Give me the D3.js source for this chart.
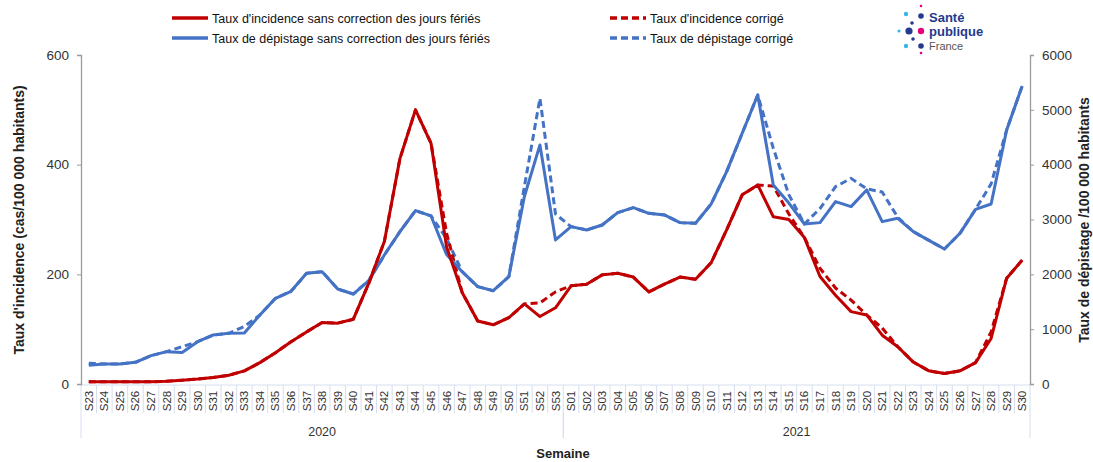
<!DOCTYPE html>
<html>
<head>
<meta charset="utf-8">
<script src="https://cdn.jsdelivr.net/npm/d3@7"></script>
<style>
  body { margin: 0; background: #fff; }
  svg { font-family: "Liberation Sans", Arial, sans-serif; }
</style>
</head>
<body>
<div id="chart"></div>
<script>
// weeks: S23..S53 of 2020, then S01..S30 of 2021
const weeks2020 = d3.range(23, 54).map(d => "S" + d);
const weeks2021 = d3.range(1, 31).map(d => "S" + String(d).padStart(2, "0"));
const years = [
    {label: "2020", count: weeks2020.length},
    {label: "2021", count: weeks2021.length}
];

// incidence rate (cases / 100 000), left axis
const incidence = [
    4, 4, 4, 4, 4, 5, 7, 9, 12, 16, 24, 39, 57, 77, 95, 112, 111, 118, 184, 260, 411, 500, 439, 250, 167, 115, 108, 121, 146, 123, 139,
    179, 182, 199, 202, 195, 168, 182, 195, 191, 221, 281, 345, 363, 305, 300, 267, 196, 162, 132, 126, 89, 68, 40, 24, 19, 24, 39, 83, 193, 226
];
const incidenceCorr = [
    4, 4, 4, 4, 4, 5, 7, 9, 12, 16, 24, 39, 57, 77, 95, 112, 111, 118, 184, 260, 411, 500, 439, 275, 167, 115, 108, 121, 146, 148, 168,
    179, 182, 199, 202, 195, 168, 182, 195, 191, 221, 281, 345, 363, 361, 310, 267, 211, 175, 153, 126, 102, 68, 40, 24, 19, 24, 39, 95, 193, 226
];

// screening rate (/ 100 000), right axis
const depistage = [
    340, 365, 365, 396, 517, 590, 575, 772, 894, 924, 930, 1259, 1563, 1690, 2019, 2049, 1733, 1641, 1885, 2353, 2778, 3162, 3065, 2360, 2049, 1775, 1702, 1957, 3420, 4360, 2627,
    2870, 2809, 2900, 3125, 3216, 3113, 3083, 2943, 2931, 3280, 3872, 4572, 5271, 3629, 3300, 2918, 2943, 3326, 3235, 3539, 2961, 3022, 2778, 2620, 2462, 2748, 3186, 3283, 4633, 5436
];
const depistageCorr = [
    380, 365, 365, 396, 517, 590, 680, 772, 894, 924, 1050, 1259, 1563, 1690, 2019, 2049, 1733, 1641, 1885, 2353, 2778, 3162, 3065, 2650, 2049, 1775, 1702, 1957, 3600, 5210, 3100,
    2870, 2809, 2900, 3125, 3216, 3113, 3083, 2943, 2931, 3280, 3872, 4572, 5271, 4300, 3450, 2918, 3200, 3600, 3750, 3560, 3500, 3040, 2778, 2620, 2462, 2748, 3186, 3650, 4633, 5436
];

const leftTicks = [0, 200, 400, 600];
const rightTicks = [0, 1000, 2000, 3000, 4000, 5000, 6000];

const width = 1093, height = 462;
const red = "#c00000", blue = "#4472c4";
const gridCol = "#d6dfee";

const cats = weeks2020.map(w => "2020-" + w).concat(weeks2021.map(w => "2021-" + w));
const labels = weeks2020.concat(weeks2021);

const svg = d3.select("#chart").append("svg")
    .attr("width", width)
    .attr("height", height);

const x = d3.scaleBand().domain(cats).range([81, 1030]).padding(0);
const yL = d3.scaleLinear().domain([0, 600]).range([384, 55]);
const yR = d3.scaleLinear().domain([0, 6000]).range([384, 55]);
const cx = i => x(cats[i]) + x.bandwidth() / 2;

// category axis boxes
const axisG = svg.append("g");
axisG.append("line")
    .attr("x1", 81).attr("x2", 1030).attr("y1", 385).attr("y2", 385)
    .attr("stroke", gridCol);
axisG.selectAll(".sep")
    .data(d3.range(cats.length + 1))
    .join("line")
    .attr("x1", i => 81 + i * x.bandwidth())
    .attr("x2", i => 81 + i * x.bandwidth())
    .attr("y1", 385).attr("y2", 413)
    .attr("stroke", gridCol);
axisG.selectAll(".wk")
    .data(labels)
    .join("text")
    .attr("transform", (d, i) => `translate(${cx(i) + 4},${401}) rotate(-90)`)
    .attr("text-anchor", "middle")
    .attr("font-size", 11.5)
    .attr("fill", "#333")
    .text(d => d);

let start = 0;
years.forEach(y => {
    const x0 = x(cats[start]);
    const x1 = x0 + y.count * x.bandwidth();
    [x0, x1].forEach(xx => axisG.append("line")
        .attr("x1", xx).attr("x2", xx).attr("y1", 413).attr("y2", 438)
        .attr("stroke", gridCol));
    axisG.append("text")
        .attr("x", (x0 + x1) / 2).attr("y", 436)
        .attr("text-anchor", "middle")
        .attr("font-size", 12.5)
        .attr("fill", "#333")
        .text(y.label);
    start += y.count;
});

svg.append("text")
    .attr("x", 563).attr("y", 458)
    .attr("text-anchor", "middle")
    .attr("font-size", 13).attr("font-weight", "bold")
    .attr("fill", "#222")
    .text("Semaine");

// y axes
const leftAxis = svg.append("g")
    .attr("transform", "translate(81,0)")
    .call(d3.axisLeft(yL).tickValues(leftTicks).tickSize(4).tickPadding(8).tickFormat(d3.format("d")));
const rightAxis = svg.append("g")
    .attr("transform", "translate(1030,0)")
    .call(d3.axisRight(yR).tickValues(rightTicks).tickSize(4).tickPadding(8).tickFormat(d3.format("d")));
[leftAxis, rightAxis].forEach(a => {
    a.select(".domain").attr("stroke", "#9a9a9a").attr("stroke-width", 1.3);
    a.selectAll(".tick line").attr("stroke", "#9a9a9a");
    a.selectAll("text").attr("font-size", 13.5).attr("fill", "#333")
        .attr("font-family", "Liberation Sans, Arial, sans-serif");
});

svg.append("text")
    .attr("transform", "translate(24,220) rotate(-90)")
    .attr("text-anchor", "middle")
    .attr("font-size", 14).attr("font-weight", "bold")
    .attr("fill", "#222")
    .text("Taux d'incidence (cas/100 000 habitants)");
svg.append("text")
    .attr("transform", "translate(1089,220) rotate(-90)")
    .attr("text-anchor", "middle")
    .attr("font-size", 14).attr("font-weight", "bold")
    .attr("fill", "#222")
    .text("Taux de dépistage /100 000 habitants");

// lines: corrected (dashed) underneath, raw (solid) on top
const lineL = d3.line().x((d, i) => cx(i)).y(d => yL(d));
const lineR = d3.line().x((d, i) => cx(i)).y(d => yR(d));

const series = [
    {data: depistageCorr, line: lineR, color: blue, dash: "7,4"},
    {data: incidenceCorr, line: lineL, color: red, dash: "7,4"},
    {data: depistage, line: lineR, color: blue, dash: null},
    {data: incidence, line: lineL, color: red, dash: null}
];
svg.append("g")
    .selectAll("path")
    .data(series)
    .join("path")
    .attr("d", d => d.line(d.data))
    .attr("fill", "none")
    .attr("stroke", d => d.color)
    .attr("stroke-width", 3)
    .attr("stroke-linejoin", "round")
    .attr("stroke-dasharray", d => d.dash);

// legend
const legend = [
    {text: "Taux d'incidence sans correction des jours fériés", color: red, dash: null, x: 172, y: 18},
    {text: "Taux de dépistage sans correction des jours fériés", color: blue, dash: null, x: 172, y: 38},
    {text: "Taux d'incidence corrigé", color: red, dash: "7,4", x: 610, y: 18},
    {text: "Taux de dépistage corrigé", color: blue, dash: "7,4", x: 610, y: 38}
];
const lg = svg.append("g").selectAll("g").data(legend).join("g")
    .attr("transform", d => `translate(${d.x},${d.y})`);
lg.append("line")
    .attr("x1", 0).attr("x2", 36).attr("y1", 0).attr("y2", 0)
    .attr("stroke", d => d.color).attr("stroke-width", 3.5)
    .attr("stroke-dasharray", d => d.dash);
lg.append("text")
    .attr("x", 40).attr("y", 4.5)
    .attr("font-size", 12.5).attr("fill", "#111")
    .text(d => d.text);

// Santé publique France logo (approximation)
const logo = svg.append("g");
const dots = [
    {x: 921, y: 6, r: 1.3, c: "#e4007c"},
    {x: 906, y: 14, r: 2.2, c: "#38b6e6"},
    {x: 921, y: 16, r: 2.8, c: "#233a8e"},
    {x: 912, y: 23, r: 1.8, c: "#233a8e"},
    {x: 899, y: 31, r: 1.6, c: "#38b6e6"},
    {x: 909, y: 31, r: 3.6, c: "#233a8e"},
    {x: 921, y: 31, r: 3.2, c: "#e4007c"},
    {x: 913, y: 39, r: 1.8, c: "#233a8e"},
    {x: 906, y: 46, r: 2.2, c: "#38b6e6"},
    {x: 921, y: 46, r: 2.8, c: "#233a8e"},
    {x: 921, y: 53, r: 1.3, c: "#e4007c"}
];
logo.selectAll("circle").data(dots).join("circle")
    .attr("cx", d => d.x).attr("cy", d => d.y).attr("r", d => d.r)
    .attr("fill", d => d.c);
logo.append("text").attr("x", 929).attr("y", 22)
    .attr("font-size", 13).attr("font-weight", "bold").attr("fill", "#233a8e").text("Santé");
logo.append("text").attr("x", 929).attr("y", 36)
    .attr("font-size", 13).attr("font-weight", "bold").attr("fill", "#233a8e").text("publique");
logo.append("text").attr("x", 929).attr("y", 50)
    .attr("font-size", 11).attr("fill", "#555").text("France");
</script>
</body>
</html>
